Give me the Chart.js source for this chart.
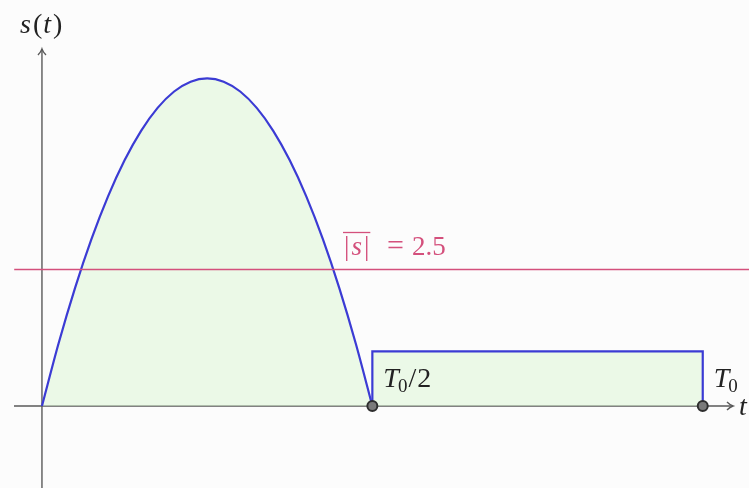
<!DOCTYPE html>
<html>
<head>
<meta charset="utf-8">
<script src="https://cdn.jsdelivr.net/npm/chart.js@4/dist/chart.umd.min.js"></script>
<style>
  html, body { margin: 0; padding: 0; background: #fcfcfc; }
  #wrap { width: 749px; height: 488px; }
</style>
</head>
<body>
<div id="wrap"><canvas id="signal" width="749" height="488"></canvas></div>
<script>
// first half period: parabolic arch, t in [0, T0/2] with T0 = 10
const archT = [0, 0.25, 0.5, 0.75, 1, 1.25, 1.5, 1.75, 2, 2.25, 2.5, 2.75, 3, 3.25, 3.5, 3.75, 4, 4.25, 4.5, 4.75, 5];
const archS = [0, 1.14, 2.16, 3.06, 3.84, 4.5, 5.04, 5.46, 5.76, 5.94, 6, 5.94, 5.76, 5.46, 5.04, 4.5, 3.84, 3.06, 2.16, 1.14, 0];
// second half period: constant level
const stepT = [5, 5, 10, 10];
const stepS = [0, 1, 1, 0];
const meanValue = 2.5;
const markT = [5, 10];
const markLabels = ['T0/2', 'T0'];

const toPoints = (xs, ys) => xs.map((x, i) => ({ x: x, y: ys[i] }));

const serif = '"Liberation Serif", "DejaVu Serif", serif';
const fillGreen = 'rgba(218, 246, 210, 0.5)';
const lineBlue = '#3b3bd4';
const meanPink = '#d4507c';

// writes a run of [text, italic, size, dy, gapAfter] pieces, returns end x
function writeRun(ctx, x, y, parts) {
  parts.forEach(([txt, italic, size, dy, gap]) => {
    ctx.font = (italic ? 'italic ' : '') + size + 'px ' + serif;
    ctx.fillText(txt, x, y + (dy || 0));
    x += ctx.measureText(txt).width + (gap || 0);
  });
  return x;
}

const axesPlugin = {
  id: 'axes',
  beforeDatasetsDraw(chart) {
    const { ctx, scales: { x, y } } = chart;
    const x0 = x.getPixelForValue(0), y0 = y.getPixelForValue(0);
    ctx.save();
    ctx.strokeStyle = '#5a5a5a';
    ctx.lineWidth = 1.4;
    // horizontal axis
    ctx.beginPath();
    ctx.moveTo(14, y0);
    ctx.lineTo(733, y0);
    ctx.stroke();
    ctx.beginPath();
    ctx.moveTo(727, y0 - 4); ctx.quadraticCurveTo(730, y0 - 1, 733, y0);
    ctx.quadraticCurveTo(730, y0 + 1, 727, y0 + 4);
    ctx.stroke();
    // vertical axis
    ctx.beginPath();
    ctx.moveTo(x0, chart.height);
    ctx.lineTo(x0, 49);
    ctx.stroke();
    ctx.beginPath();
    ctx.moveTo(x0 - 4, 55); ctx.quadraticCurveTo(x0 - 1, 52, x0, 49);
    ctx.quadraticCurveTo(x0 + 1, 52, x0 + 4, 55);
    ctx.stroke();
    ctx.restore();
  },
  afterDatasetsDraw(chart) {
    const { ctx, scales: { x, y } } = chart;
    const y0 = y.getPixelForValue(0);
    ctx.save();
    ctx.fillStyle = '#222';
    ctx.textBaseline = 'alphabetic';
    // axis names
    writeRun(ctx, 20, 33, [['s', true, 28, 0, 2], ['(', false, 28, 0, 1], ['t', true, 28, 0, 2], [')', false, 28]]);
    writeRun(ctx, 739, y0 + 9, [['t', true, 28]]);

    // period marks T0/2 and T0
    markT.forEach((t, i) => {
      const px = x.getPixelForValue(t) + 11;
      const by = y0 - 19;
      const parts = [['T', true, 28, 0, -1], ['0', false, 19, 5, 1]];
      if (markLabels[i].endsWith('/2')) parts.push(['/', false, 28, 0, 1], ['2', false, 28]);
      writeRun(ctx, px, by, parts);
    });

    // mean label with overline
    const my = y.getPixelForValue(meanValue) - 14;
    ctx.fillStyle = meanPink;
    ctx.strokeStyle = meanPink;
    const barEnd = writeRun(ctx, 344, my, [['|', false, 27, 0, 2], ['s', true, 27, 0, 2], ['|', false, 27]]);
    ctx.lineWidth = 1.3;
    ctx.beginPath();
    ctx.moveTo(343, my - 23);
    ctx.lineTo(barEnd + 1, my - 23);
    ctx.stroke();
    writeRun(ctx, 387, my, [['=', false, 30, 0, 8], [String(meanValue), false, 27]]);
    ctx.restore();
  }
};

new Chart(document.getElementById('signal'), {
  type: 'line',
  data: {
    datasets: [
      {
        data: markT.map(t => ({ x: t, y: 0 })),
        showLine: false,
        pointRadius: 5,
        pointBackgroundColor: '#7a7a7a',
        pointBorderColor: '#2e2e2e',
        pointBorderWidth: 2,
        order: 0
      },
      {
        data: toPoints(archT, archS),
        borderColor: lineBlue,
        borderWidth: 2.2,
        backgroundColor: fillGreen,
        fill: 'origin',
        pointRadius: 0,
        cubicInterpolationMode: 'monotone',
        order: 2
      },
      {
        data: toPoints(stepT, stepS),
        borderColor: lineBlue,
        borderWidth: 2.2,
        backgroundColor: fillGreen,
        fill: 'origin',
        pointRadius: 0,
        tension: 0,
        order: 2
      },
      {
        data: [{ x: -0.42, y: meanValue }, { x: 10.7, y: meanValue }],
        borderColor: meanPink,
        borderWidth: 1.6,
        pointRadius: 0,
        fill: false,
        order: 1
      }
    ]
  },
  options: {
    responsive: false,
    animation: false,
    layout: { padding: 0, autoPadding: false },
    plugins: { legend: { display: false }, tooltip: { enabled: false } },
    scales: {
      x: { type: 'linear', min: -0.635, max: 10.70, display: false },
      y: { type: 'linear', min: -1.502, max: 7.436, display: false }
    }
  },
  plugins: [axesPlugin]
});
</script>
</body>
</html>
